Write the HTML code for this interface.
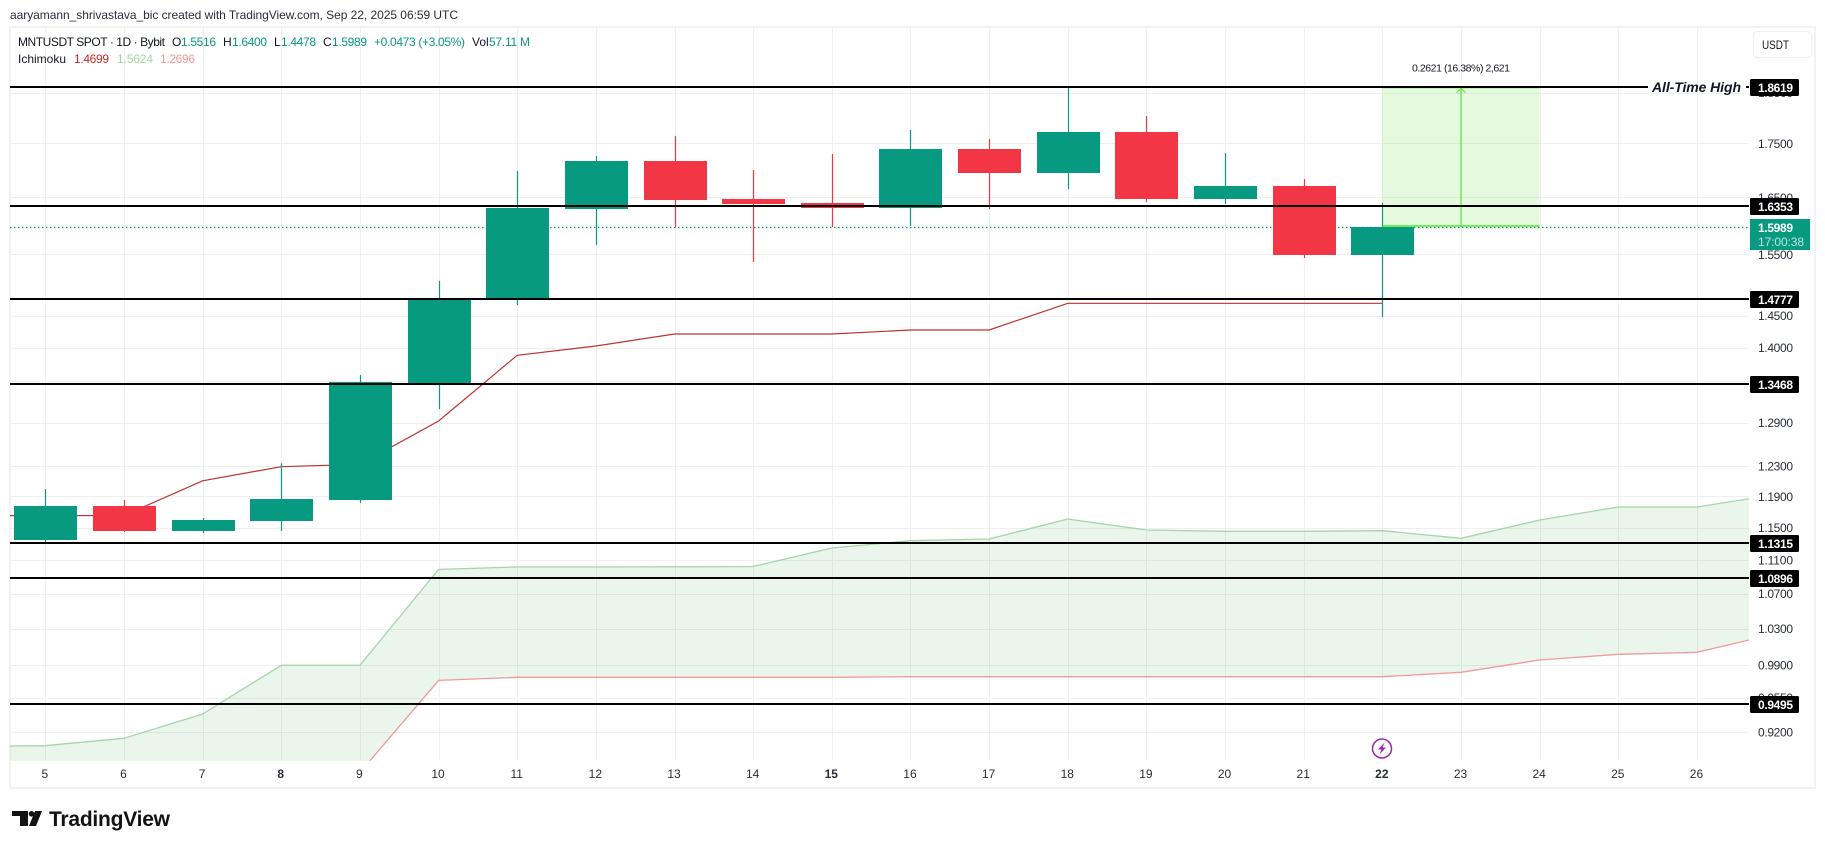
<!DOCTYPE html>
<html lang="en">
<head>
<meta charset="utf-8">
<title>MNTUSDT chart</title>
<style>
html,body{margin:0;padding:0;background:#fff;width:1825px;height:849px;overflow:hidden}
svg{display:block;font-family:"Liberation Sans",sans-serif}
</style>
</head>
<body>
<svg id="chart" xmlns="http://www.w3.org/2000/svg" width="1825" height="849" viewBox="0 0 1825 849">
  <rect x="0" y="0" width="1825" height="849" fill="#ffffff"/>
  <text x="10" y="19" font-size="12" fill="#2a2e39" textLength="448">aaryamann_shrivastava_bic created with TradingView.com, Sep 22, 2025 06:59 UTC</text>
  <rect x="10" y="27" width="1805" height="761" fill="none" stroke="#f2f2f2" stroke-width="2"/>
  <line x1="1749.5" y1="27" x2="1749.5" y2="761" stroke="#ffffff" stroke-width="1"/>
  <g id="plot-layer" clip-path="url(#plot-clip)"></g>
  <g id="axis-layer"></g>
  <g font-size="12">
    <text x="18" y="46" fill="#131722" textLength="147">MNTUSDT SPOT · 1D · Bybit</text>
    <text x="172" y="46" fill="#131722">O</text>
    <text x="181" y="46" fill="#089981" textLength="35">1.5516</text>
    <text x="223" y="46" fill="#131722">H</text>
    <text x="232" y="46" fill="#089981" textLength="35">1.6400</text>
    <text x="274" y="46" fill="#131722">L</text>
    <text x="281" y="46" fill="#089981" textLength="35">1.4478</text>
    <text x="323" y="46" fill="#131722">C</text>
    <text x="332" y="46" fill="#089981" textLength="35">1.5989</text>
    <text x="374" y="46" fill="#089981" textLength="91">+0.0473 (+3.05%)</text>
    <text x="472" y="46" fill="#131722">Vol</text>
    <text x="489" y="46" fill="#089981" textLength="41">57.11 M</text>
    <text x="18" y="63" fill="#131722" textLength="48">Ichimoku</text>
    <text x="74" y="63" fill="#c62828" textLength="35">1.4699</text>
    <text x="117" y="63" fill="#a5d6a7" textLength="36">1.5624</text>
    <text x="160" y="63" fill="#ef9a9a" textLength="35">1.2696</text>
  </g>
  <g>
    <rect x="1753.5" y="31.5" width="58" height="26" rx="4" fill="#ffffff" stroke="#f0f0f0" stroke-width="1.2"/>
    <text x="1762" y="49" font-size="12" fill="#131722" textLength="27" lengthAdjust="spacingAndGlyphs">USDT</text>
  </g>
  <g>
    <rect x="1750" y="219" width="60" height="31" fill="#089981"/>
    <text x="1758" y="232" font-size="12" font-weight="bold" fill="#ffffff" textLength="35">1.5989</text>
    <text x="1758" y="246" font-size="12" fill="#b5e6dc" textLength="46">17:00:38</text>
  </g>
  <g>
    <circle cx="1382" cy="748.5" r="9.5" fill="#ffffff" stroke="#9c27b0" stroke-width="1.5"/>
    <polygon points="1384.5,742.5 1378,749.5 1381.5,749.5 1379.5,754.5 1386,747.5 1382.5,747.5" fill="#9c27b0"/>
  </g>
  <g>
    <polygon points="12,811 28,811 28,826 20,826 20,816 12,816" fill="#131313"/>
    <circle cx="31.5" cy="813.8" r="2.8" fill="#131313"/>
    <polygon points="35,811 42,811 36,826 29,826" fill="#131313"/>
    <text x="49" y="826" font-size="21" font-weight="bold" fill="#131313" textLength="121">TradingView</text>
  </g>
  <defs>
    <clipPath id="plot-clip"><rect x="10" y="27" width="1739" height="733.7"/></clipPath>
  </defs>
</svg>
<script>
const candleDays = [5,6,7,8,9,10,11,12,13,14,15,16,17,18,19,20,21,22];
const opens  = [1.1346,1.1775,1.1458,1.1584,1.1853,1.3469,1.4781,1.6290,1.7167,1.6469,1.6397,1.6308,1.7394,1.6943,1.7720,1.6469,1.6704,1.5492];
const highs  = [1.1996,1.1853,1.1622,1.2338,1.3588,1.5058,1.6981,1.7261,1.7643,1.6999,1.7299,1.7759,1.7585,1.8613,1.8032,1.7318,1.6833,1.6397];
const lows   = [1.1309,1.1446,1.1433,1.1458,1.1814,1.3092,1.4668,1.5662,1.5973,1.5374,1.5973,1.5990,1.6290,1.6650,1.6415,1.6379,1.5441,1.4477];
const closes = [1.1775,1.1458,1.1597,1.1866,1.3484,1.4781,1.6308,1.7167,1.6451,1.6379,1.6308,1.7394,1.6943,1.7720,1.6469,1.6704,1.5492,1.5973];

const conversionDays = [4,5,6,7,8,9,10,11,12,13,14,15,16,17,18,19,20,21,22];
const conversionValues = [1.1654,1.1652,1.1654,1.2105,1.2292,1.2324,1.2922,1.3883,1.4025,1.4210,1.4210,1.4210,1.4272,1.4272,1.4695,1.4695,1.4695,1.4695,1.4695];

const cloudDays = [4,5,6,7,8,9,10,11,12,13,14,15,16,17,18,19,20,21,22,23,24,25,26,27];
const spanAValues = [0.9055,0.9062,0.9136,0.9382,0.9894,0.9894,1.0988,1.1016,1.1016,1.1019,1.1022,1.1247,1.1337,1.1358,1.1610,1.1471,1.1455,1.1455,1.1462,1.1367,1.1597,1.1763,1.1763,1.1924];
const spanBValues = [0.8600,0.8600,0.8600,0.8600,0.8634,0.8801,0.9733,0.9765,0.9765,0.9765,0.9765,0.9765,0.9772,0.9772,0.9772,0.9772,0.9772,0.9772,0.9772,0.9819,0.9952,1.0014,1.0036,1.0242];

const timeLabels = [5,6,7,8,9,10,11,12,13,14,15,16,17,18,19,20,21,22,23,24,25,26];
const boldTimeLabels = [8,15,22];
const priceTicks = [1.85,1.75,1.65,1.55,1.45,1.40,1.35,1.29,1.23,1.19,1.15,1.11,1.07,1.03,0.99,0.955,0.92];
const levelPrices = [1.8619,1.6353,1.4777,1.3468,1.1315,1.0896,0.9495];
const lastPrice = 1.5973;
const measureFromDay = 22;
const measureToDay = 24;
const measureMidDay = 23;
const measureTop = 1.8619;
const measureBottom = 1.5990;

const NS = 'http://www.w3.org/2000/svg';
const plot = document.getElementById('plot-layer');
const axis = document.getElementById('axis-layer');
const xAt = d => 45.3 + 78.65 * (d - 5);
const yAt = p => 86.7 + (Math.log(1.8619) - Math.log(p)) * 915.2;
function make(tag, attrs, parent) {
  const el = document.createElementNS(NS, tag);
  for (const k in attrs) el.setAttribute(k, attrs[k]);
  parent.appendChild(el);
  return el;
}
const fmt = p => p.toFixed(4);

/* vertical grid */
timeLabels.forEach(d => {
  const el = make('line', {x1:Math.round(xAt(d))+.5, x2:Math.round(xAt(d))+.5, y1:27, y2:761, stroke:'#efefef', 'stroke-width':1}, plot);
  
  
});
/* horizontal grid */
priceTicks.forEach(p => {
  const el = make('line', {x1:10, x2:1749, y1:Math.round(yAt(p))+.5, y2:Math.round(yAt(p))+.5, stroke:'#efefef', 'stroke-width':1}, plot);
  
  
});

/* ichimoku cloud */
const topPts = cloudDays.map((d,i) => xAt(d).toFixed(1) + ',' + yAt(spanAValues[i]).toFixed(1));
const botPts = cloudDays.map((d,i) => xAt(d).toFixed(1) + ',' + yAt(spanBValues[i]).toFixed(1));
const cloud = make('polygon', {points: topPts.concat(botPts.slice().reverse()).join(' '), fill:'#43a047', 'fill-opacity':0.11}, plot);


const spanA = make('polyline', {points: topPts.join(' '), fill:'none', stroke:'#a5d6a7', 'stroke-width':1.3}, plot);


const spanB = make('polyline', {points: botPts.join(' '), fill:'none', stroke:'#ef9a9a', 'stroke-width':1.3}, plot);


const conv = make('polyline', {points: conversionDays.map((d,i) => xAt(d).toFixed(1) + ',' + yAt(conversionValues[i]).toFixed(1)).join(' '), fill:'none', stroke:'#b71c1c', 'stroke-width':1.2, 'stroke-opacity':0.9}, plot);



/* last price dotted line */
const lastLine = make('line', {x1:10, x2:1749, y1:Math.round(yAt(lastPrice))+.5, y2:Math.round(yAt(lastPrice))+.5, stroke:'#089981', 'stroke-width':1.3, 'stroke-dasharray':'1.5 2.5'}, plot);



/* measure tool fill */
const mx1 = xAt(measureFromDay), mx2 = xAt(measureToDay), mxm = xAt(measureMidDay);
const my1 = yAt(measureTop), my2 = yAt(measureBottom);
const mRect = make('rect', {x:mx1, y:my1, width:mx2-mx1, height:my2-my1, fill:'#4cd61c', 'fill-opacity':0.15}, plot);



/* candles */
candleDays.forEach((d,i) => {
  const up = closes[i] >= opens[i];
  const color = up ? '#089981' : '#f23645';
  const cx = Math.round(xAt(d));
  const wick = make('rect', {x:cx-.1, y:yAt(highs[i]), width:1.2, height:yAt(lows[i])-yAt(highs[i]), fill:color}, plot);
  
  
  const t = Math.round(yAt(Math.max(opens[i],closes[i])));
  const b = Math.round(yAt(Math.min(opens[i],closes[i])));
  const body = make('rect', {x:cx-31, y:t, width:63, height:Math.max(1,b-t), fill:color}, plot);
  
  
});

/* measure tool lines */
const mBottom = make('line', {x1:mx1, x2:mx2, y1:my2, y2:my2, stroke:'#4de82a', 'stroke-width':1.5}, plot);


const mTop = make('line', {x1:mx1, x2:mx2, y1:my1+1, y2:my1+1, stroke:'#4de82a', 'stroke-width':1}, plot);


const mArrow = make('line', {x1:mxm, x2:mxm, y1:my2, y2:my1+1, stroke:'#4de82a', 'stroke-width':1.1}, plot);


const mHead = make('polyline', {points:(mxm-4.5)+','+(my1+6)+' '+mxm+','+(my1+1.5)+' '+(mxm+4.5)+','+(my1+6), fill:'none', stroke:'#4de82a', 'stroke-width':1}, plot);


const mText = make('text', {x:mxm, y:71.5, 'text-anchor':'middle', 'font-size':10.5, fill:'#131722', textLength:98}, axis);
mText.textContent = '0.2621 (16.38%) 2,621';



/* level lines */
levelPrices.forEach((p,i) => {
  const y = Math.ceil(yAt(p));
  const isAth = i === 0;
  const line = make('line', {x1:10, x2:isAth ? 1648 : 1749, y1:y, y2:y, stroke:'#000000', 'stroke-width':2}, plot);
  
  
  if (isAth) {
    const stub = make('line', {x1:1746, x2:1749, y1:y, y2:y, stroke:'#000000', 'stroke-width':2}, plot);
    
    
    const ath = make('text', {x:1652, y:y+5, 'font-size':14, 'font-weight':'bold', 'font-style':'italic', fill:'#131722', textLength:89}, axis);
    ath.textContent = 'All-Time High';
    
    
  }
});

/* price axis ticks */
priceTicks.forEach(p => {
  const el = make('text', {x:1758, y:yAt(p)+4.5, 'font-size':12, fill:'#2a2e39', textLength:35}, axis);
  el.textContent = fmt(p);
  
  
});
/* level price labels */
levelPrices.forEach(p => {
  const y = Math.ceil(yAt(p));
  const box = make('rect', {x:1750, y:y-8, width:49, height:17, rx:1.5, fill:'#000000'}, axis);
  
  
  const txt = make('text', {x:1758, y:y+5, 'font-size':12, 'font-weight':'bold', fill:'#ffffff', textLength:35}, axis);
  txt.textContent = fmt(p);
  
  
});
/* time axis */
timeLabels.forEach(d => {
  const el = make('text', {x:xAt(d)-.5, y:778, 'text-anchor':'middle', 'font-size':12, 'font-weight':boldTimeLabels.includes(d) ? 'bold' : 'normal', fill:'#2a2e39'}, axis);
  el.textContent = d;
  
  
});
</script>
</body>
</html>
